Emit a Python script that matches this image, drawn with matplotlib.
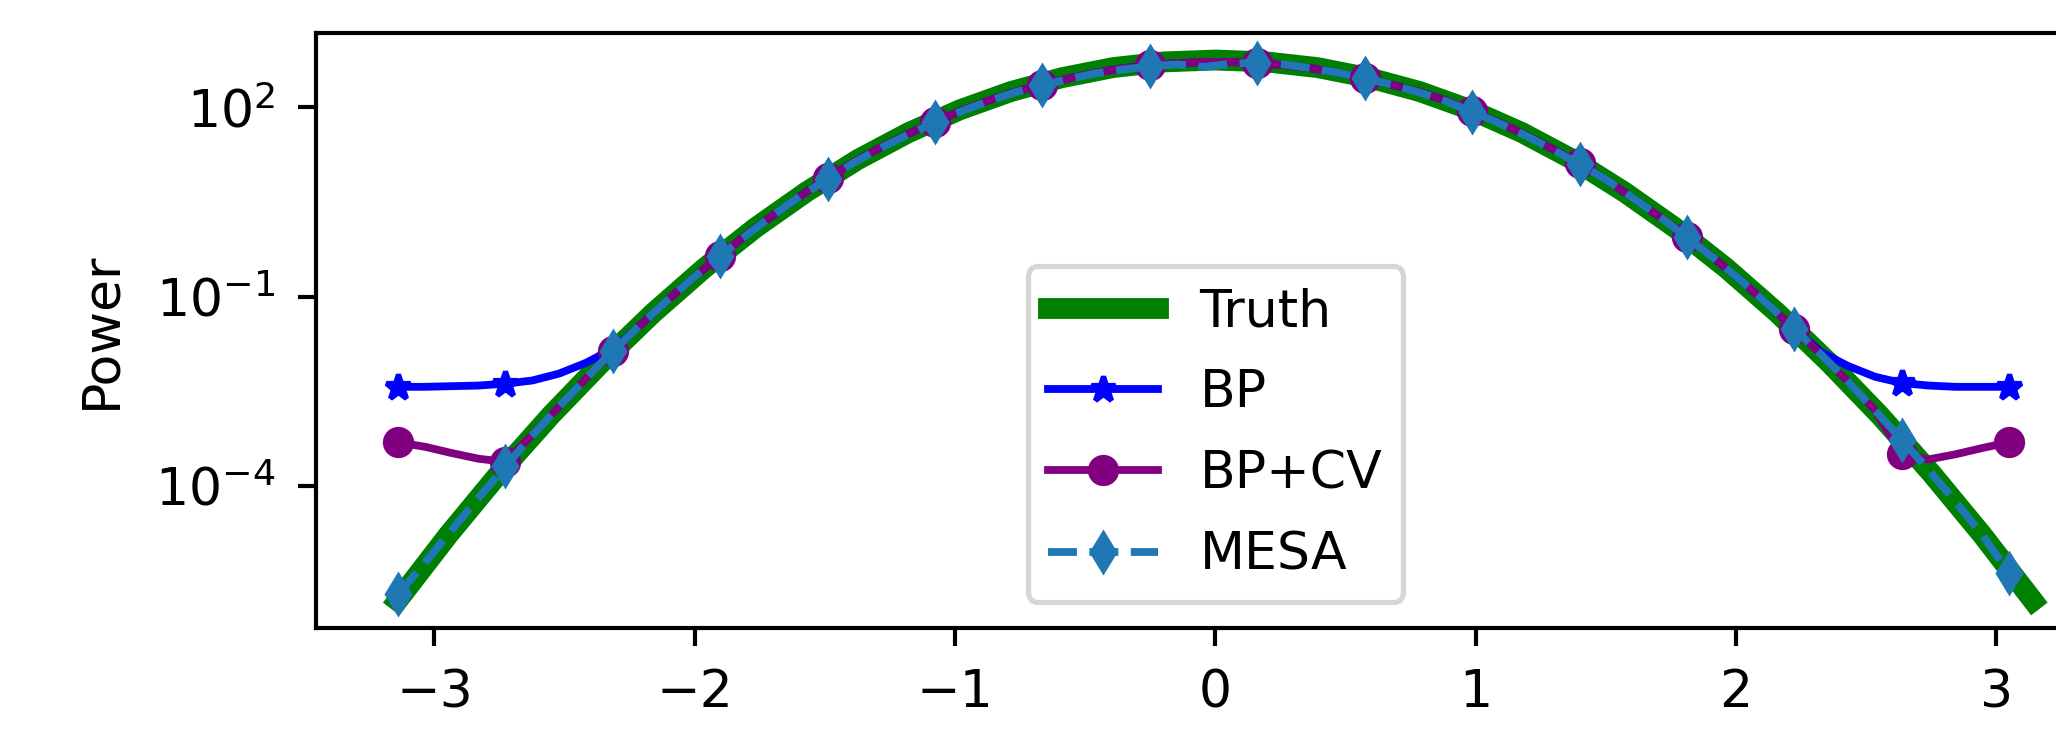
import matplotlib
matplotlib.use('Agg')
import matplotlib.pyplot as plt
from matplotlib.ticker import NullLocator
import numpy as np

# truth spectrum, log10 power on a grid of pi/16 steps from -pi to pi
truth_x = np.linspace(-np.pi, np.pi, 33)
truth_log = [-5.82, -4.77, -3.79, -2.88, -2.04, -1.26, -0.55, 0.09, 0.66, 1.17, 1.60,
             1.96, 2.25, 2.47, 2.63, 2.72, 2.75, 2.72, 2.63, 2.47, 2.25, 1.96, 1.60,
             1.17, 0.66, 0.09, -0.55, -1.26, -2.04, -2.88, -3.79, -4.77, -5.82]

# estimates, log10 power on a common frequency grid (61 points)
freq = np.linspace(-3.14, 3.05, 61)
mesa_log = [-5.72, -5.22, -4.70, -4.19, -3.69, -3.20, -2.74, -2.30, -1.86, -1.46,
            -1.07, -0.70, -0.36, -0.02, 0.30, 0.60, 0.86, 1.13, 1.36, 1.57,
            1.76, 1.94, 2.10, 2.24, 2.35, 2.45, 2.54, 2.60, 2.65, 2.68,
            2.64, 2.69, 2.71, 2.68, 2.62, 2.55, 2.46, 2.36, 2.24, 2.10,
            1.93, 1.75, 1.55, 1.33, 1.10, 0.85, 0.56, 0.26, -0.06, -0.39,
            -0.74, -1.12, -1.51, -1.92, -2.35, -2.80, -3.27, -3.75, -4.25, -4.78, -5.38]
bp_log = [-2.43, -2.43, -2.42, -2.41, -2.38, -2.33, -2.22, -2.05, -1.83, -1.46,
          -1.07, -0.70, -0.35, -0.01, 0.30, 0.60, 0.88, 1.14, 1.37, 1.58,
          1.77, 1.95, 2.11, 2.25, 2.36, 2.46, 2.55, 2.62, 2.67, 2.70,
          2.72, 2.72, 2.70, 2.67, 2.62, 2.55, 2.46, 2.36, 2.25, 2.11,
          1.94, 1.76, 1.56, 1.34, 1.11, 0.85, 0.56, 0.26, -0.05, -0.39,
          -0.74, -1.12, -1.51, -1.88, -2.10, -2.27, -2.37, -2.41, -2.43, -2.43, -2.43]
bpcv_log = [-3.31, -3.38, -3.48, -3.57, -3.62, -3.19, -2.74, -2.30, -1.87, -1.46,
            -1.07, -0.70, -0.35, -0.01, 0.30, 0.60, 0.88, 1.14, 1.37, 1.58,
            1.77, 1.95, 2.11, 2.25, 2.36, 2.46, 2.55, 2.62, 2.67, 2.70,
            2.72, 2.72, 2.70, 2.67, 2.62, 2.55, 2.46, 2.36, 2.25, 2.11,
            1.94, 1.76, 1.56, 1.34, 1.11, 0.85, 0.56, 0.26, -0.05, -0.39,
            -0.74, -1.12, -1.51, -1.92, -2.35, -2.80, -3.50, -3.58, -3.50, -3.40, -3.31]

fig = plt.figure(figsize=(2056 / 375, 748 / 375), dpi=375)
ax = fig.add_axes([0.1536, 0.1608, 0.875, 0.7951])

ax.plot(truth_x, 10 ** np.array(truth_log), color='green', lw=4, label='Truth')
ax.plot(freq, 10 ** np.array(bp_log), color='blue', marker='*', ms=5, markevery=4, label='BP')
ax.plot(freq, 10 ** np.array(bpcv_log), color='purple', marker='o', ms=5, markevery=4,
        label='BP+CV')
ax.plot(freq, 10 ** np.array(mesa_log), color='tab:blue', ls='--', marker='d', ms=5,
        markevery=4, label='MESA')

ax.set_yscale('log')
ax.set_yticks([1e-4, 1e-1, 1e2])
ax.yaxis.set_minor_locator(NullLocator())
ax.tick_params(pad=4.25)
ax.set_ylabel('Power', labelpad=5.5)
ax.legend(loc='lower center', labelspacing=0.6, handlelength=2.1)

plt.savefig('out.png', dpi=375)
